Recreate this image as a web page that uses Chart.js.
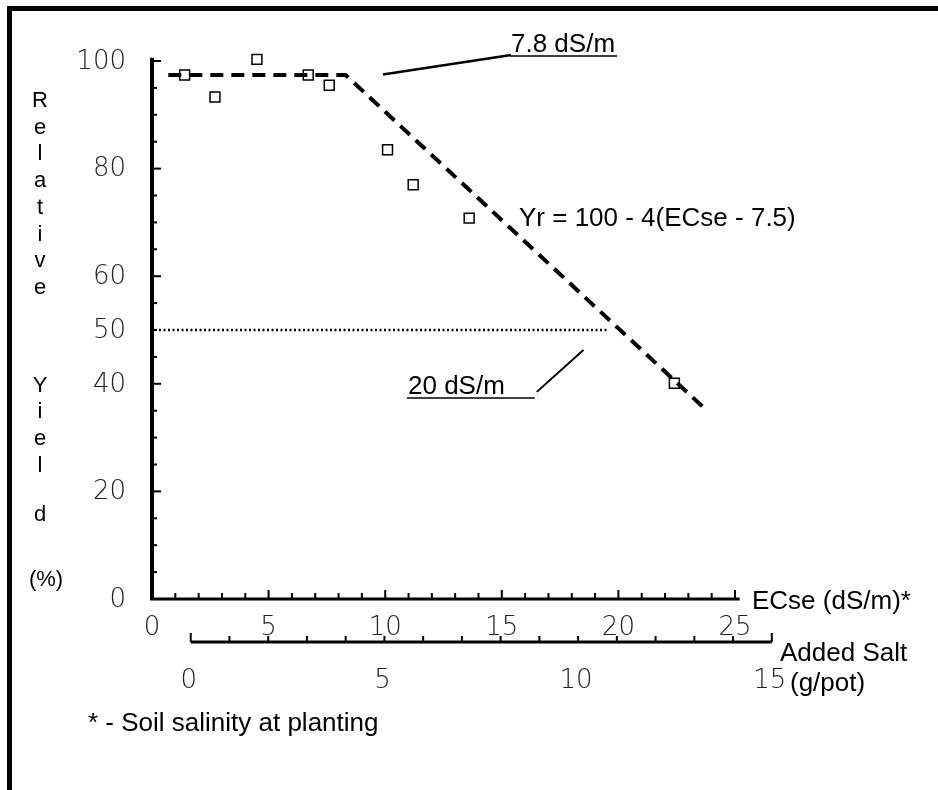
<!DOCTYPE html>
<html>
<head>
<meta charset="utf-8">
<style>
html, body { margin: 0; padding: 0; background: #fff; }
#wrap { position: relative; width: 938px; height: 790px; overflow: hidden; }
#frame { position: absolute; left: 7px; top: 6px; width: 940px; height: 800px; border-left: 5px solid #000; border-top: 5px solid #000; pointer-events: none; }
</style>
<script src="https://cdn.jsdelivr.net/npm/chart.js@4.4.0/dist/chart.umd.min.js"></script>
</head>
<body>
<div id="wrap">
  <canvas id="myChart" width="938" height="790"></canvas>
  <div id="frame"></div>
</div>
<script>
var ctx = document.getElementById('myChart').getContext('2d');

// measured points (ECse dS/m, relative yield %)
var ecseValues = [1.4, 2.7, 4.5, 6.7, 7.6, 10.1, 11.2, 13.6, 22.4];
var yieldValues = [97.4, 93.3, 100.3, 97.4, 95.5, 83.5, 77, 70.8, 40.1];

// threshold / slope line
var thresholdX = [0.7, 8.3, 23.7];
var thresholdY = [97.4, 97.4, 35.4];

// 50% yield line
var halfX = [0.3, 19.6];
var halfY = [50, 50];

// leader lines to the notes
var leader78X = [9.9, 15.4];
var leader78Y = [97.5, 101.1];
var leader20X = [16.5, 18.5];
var leader20Y = [38.5, 46.3];

// tick labels
var ecseTicks = [0, 5, 10, 15, 20, 25];
var yieldTicks = [0, 20, 40, 50, 60, 80, 100];
var saltTicks = [0, 5, 10, 15];
var titleRelative = ['R', 'e', 'l', 'a', 't', 'i', 'v', 'e'];
var titleYield = ['Y', 'i', 'e', 'l', 'd'];
var titleYieldRows = [386, 412, 439, 466, 515];

function pairs(xs, ys) {
    return xs.map(function (v, i) { return { x: v, y: ys[i] }; });
}

var numFont = '200 26px "DejaVu Sans"';
var textFont = '26px "Liberation Sans", Arial, sans-serif';
var titleFont = '22px "Liberation Sans", Arial, sans-serif';

function seg(c, x1, y1, x2, y2) {
    c.beginPath();
    c.moveTo(x1, y1);
    c.lineTo(x2, y2);
    c.stroke();
}

function underlined(c, txt, x, y, extra) {
    c.fillText(txt, x, y);
    var w = c.measureText(txt).width + (extra || 0);
    c.lineWidth = 1.5;
    seg(c, x - 1, y + 4, x + w, y + 4);
}

// axes, ticks and texts drawn over the plot
var axesPlugin = {
    id: 'axesPlugin',
    afterDraw: function (chart) {
        var c = chart.ctx;
        var xs = chart.scales.x, ys = chart.scales.y, ss = chart.scales.x2;
        var x0 = xs.getPixelForValue(0), y0 = ys.getPixelForValue(0);
        c.save();
        c.strokeStyle = '#000';
        c.fillStyle = '#000';

        // y axis
        c.lineWidth = 4;
        seg(c, x0, ys.getPixelForValue(100.6), x0, y0 + 1);
        c.lineWidth = 2;
        for (var v = 0; v <= 100; v += 5) {
            var py = ys.getPixelForValue(v);
            seg(c, x0, py, x0 + (v % 20 === 0 ? 9 : 5), py);
        }

        // x axis
        c.lineWidth = 3;
        seg(c, x0 - 2, y0, xs.getPixelForValue(25.2), y0);
        c.lineWidth = 2;
        for (var u = 1; u <= 25; u++) {
            var px = xs.getPixelForValue(u);
            seg(c, px, y0, px, y0 - (u % 5 === 0 ? 9 : 6));
        }

        // added salt axis
        var sy = 642;
        c.lineWidth = 3;
        seg(c, ss.getPixelForValue(0), sy, ss.getPixelForValue(15), sy);
        c.lineWidth = 2;
        for (var w = 0; w <= 15; w++) {
            var sx = ss.getPixelForValue(w);
            seg(c, sx, sy, sx, sy - ((w === 0 || w === 15) ? 9 : 6));
        }

        // tick labels
        c.font = numFont;
        c.fillStyle = '#222';
        c.textBaseline = 'middle';
        c.textAlign = 'right';
        yieldTicks.forEach(function (t) {
            c.fillText(String(t), x0 - 26, ys.getPixelForValue(t) + 1);
        });
        c.textAlign = 'center';
        ecseTicks.forEach(function (t) {
            c.fillText(String(t), xs.getPixelForValue(t), 628);
        });
        saltTicks.forEach(function (t) {
            c.fillText(String(t), ss.getPixelForValue(t) - 2, 681);
        });

        // axis titles
        c.fillStyle = '#000';
        c.font = titleFont;
        titleRelative.forEach(function (ch, i) {
            c.fillText(ch, 40, 101 + i * 26.7);
        });
        titleYield.forEach(function (ch, i) {
            c.fillText(ch, 40, titleYieldRows[i]);
        });
        c.fillText('(%)', 46, 580);

        c.textAlign = 'left';
        c.textBaseline = 'alphabetic';
        c.font = textFont;
        c.fillText('ECse (dS/m)*', 752, 609);
        c.fillText('Added Salt', 780, 661);
        c.fillText('(g/pot)', 790, 691);
        c.fillText('* - Soil salinity at planting', 88, 731);
        c.fillText('Yr = 100 - 4(ECse - 7.5)', 519, 226);
        underlined(c, '7.8 dS/m', 511, 52, 2);
        underlined(c, '20 dS/m', 408, 394, 30);

        c.restore();
    }
};

var config = {
    type: 'scatter',
    data: {
        datasets: [
            {
                label: 'Measured',
                data: pairs(ecseValues, yieldValues),
                pointStyle: 'rect',
                pointRadius: 7,
                borderWidth: 1.5,
                borderColor: '#000',
                backgroundColor: 'rgba(0,0,0,0)',
                showLine: false,
                clip: false
            },
            {
                label: 'Threshold',
                data: pairs(thresholdX, thresholdY),
                showLine: true,
                borderColor: '#000',
                borderWidth: 4,
                borderDash: [13, 8],
                pointRadius: 0,
                fill: false
            },
            {
                label: '50%',
                data: pairs(halfX, halfY),
                showLine: true,
                borderColor: '#000',
                borderWidth: 2.5,
                borderDash: [2, 2.5],
                pointRadius: 0,
                fill: false
            },
            {
                label: 'lead 7.8',
                data: pairs(leader78X, leader78Y),
                showLine: true,
                borderColor: '#000',
                borderWidth: 2.5,
                pointRadius: 0,
                clip: false
            },
            {
                label: 'lead 20',
                data: pairs(leader20X, leader20Y),
                showLine: true,
                borderColor: '#000',
                borderWidth: 2,
                pointRadius: 0,
                clip: false
            }
        ]
    },
    options: {
        responsive: false,
        animation: false,
        layout: { padding: { left: 152, right: 203, top: 61, bottom: 191 } },
        plugins: {
            legend: { display: false },
            tooltip: { enabled: false }
        },
        scales: {
            x: { type: 'linear', min: 0, max: 25, display: false },
            y: { type: 'linear', min: 0, max: 100, display: false },
            x2: { type: 'linear', axis: 'x', position: 'bottom', min: -1.0, max: 14.05, display: false }
        }
    },
    plugins: [axesPlugin]
};

var chart = new Chart(ctx, config);
</script>
</body>
</html>
